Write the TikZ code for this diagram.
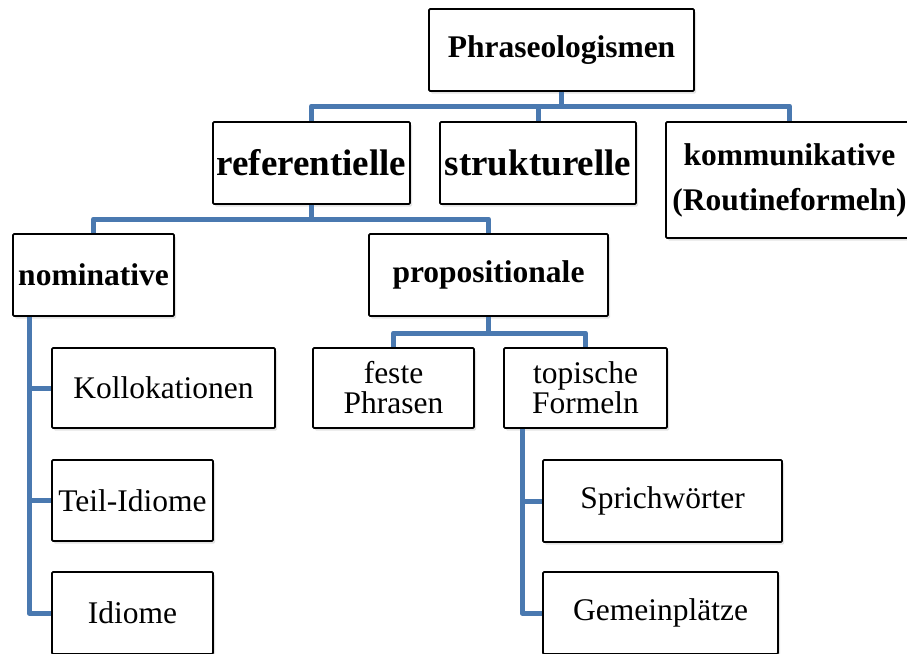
\documentclass[tikz,border=0pt]{standalone}
\usepackage{fontspec}
\setmainfont{Liberation Serif}
\usetikzlibrary{shadows,calc}
\definecolor{connblue}{RGB}{74,121,176}
\begin{document}
\begin{tikzpicture}[x=1pt,y=-1pt,
 box/.style={draw=black, line width=1.8pt, fill=white, rounded corners=1.2pt, inner sep=0pt, align=center,
   drop shadow={shadow xshift=2pt, shadow yshift=-2.5pt, opacity=0.22}},
 bf/.style={font=\fontsize{31.5}{34}\selectfont\bfseries},
 kf/.style={font=\fontsize{31.5}{45}\selectfont\bfseries},
 big/.style={font=\fontsize{37}{40}\selectfont\bfseries},
 rm/.style={font=\fontsize{31.5}{30}\selectfont},
 conn/.style={draw=connblue, line width=5pt, line join=round}]
\clip (0,0) rectangle (907,653);
\fill[white] (0,0) rectangle (907,653);

\node[box,bf,minimum width=265pt,minimum height=82pt] (phr) at (561.5,50) {Phraseologismen};
\node[box,big,minimum width=197pt,minimum height=82pt] (ref) at (311.5,163) {referentielle};
\node[box,big,minimum width=196pt,minimum height=82pt] (str) at (538,163) {strukturelle};
\node[box,kf,minimum width=247pt,minimum height=116pt] (kom) at (789.5,180) {kommunikative\\(Routineformeln)};
\node[box,bf,minimum width=161pt,minimum height=82pt] (nom) at (93.5,275) {nominative};
\node[box,bf,minimum width=239pt,minimum height=82pt] (pro) at (488.5,275) {propositionale};
\node[box,rm,minimum width=161pt,minimum height=80pt] (fes) at (393.5,388) {feste\\Phrasen};
\node[box,rm,minimum width=163pt,minimum height=80pt] (top) at (585.5,388) {topische\\Formeln};
\node[box,rm,minimum width=223pt,minimum height=80pt] (kol) at (163.5,388) {Kollokationen};
\node[box,rm,minimum width=161pt,minimum height=81pt] (tei) at (132.5,500.5) {Teil-Idiome};
\node[box,rm,minimum width=161pt,minimum height=82pt] (idi) at (132.5,613) {Idiome};
\node[box,rm,minimum width=239pt,minimum height=82pt] (spr) at (662.5,501) {Sprichwörter};
\node[box,rm,minimum width=235pt,minimum height=82pt] (gem) at (660.5,613) {Gemeinplätze};

\coordinate (j1) at (0,106);
\draw[conn] (phr.south) -- (phr.south |- j1);
\draw[conn] (ref.north) |- (kom.north |- j1) -- (kom.north);
\draw[conn] (str.north) -- (str.north |- j1);

\coordinate (j2) at (0,219);
\draw[conn] (ref.south) -- (ref.south |- j2);
\draw[conn] (nom.north) |- (pro.north |- j2) -- (pro.north);

\coordinate (j3) at (0,333);
\draw[conn] (pro.south) -- (pro.south |- j3);
\draw[conn] (fes.north) |- (top.north |- j3) -- (top.north);

\coordinate (nv) at ($(nom.south west)+(17,0)$);
\draw[conn] (nv) |- (idi.west);
\draw[conn] (nv |- kol.west) -- (kol.west);
\draw[conn] (nv |- tei.west) -- (tei.west);

\coordinate (tv) at ($(top.south west)+(19,0)$);
\draw[conn] (tv) |- (gem.west);
\draw[conn] (tv |- spr.west) -- (spr.west);
\end{tikzpicture}
\end{document}
